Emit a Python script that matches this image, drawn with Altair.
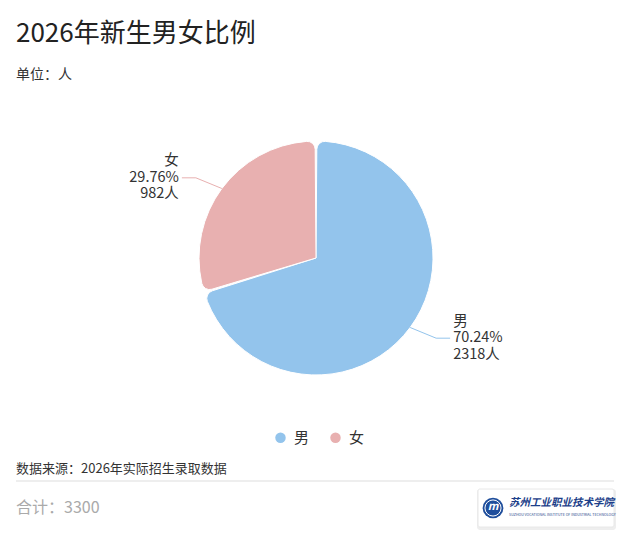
import altair as alt
import pandas as pd

# ---- data ----
categories = ["男", "女"]
counts = [2318, 982]
order_idx = [0, 1]
colors = ["#93C4EC", "#E8B0B0"]

title_text = "2026年新生男女比例"
subtitle_text = "单位：人"
source_text = "数据来源：2026年实际招生录取数据"
total_text = "合计：3300"
school_name = "苏州工业职业技术学院"
school_en = "SUZHOU VOCATIONAL INSTITUTE OF INDUSTRIAL TECHNOLOGY"

FONT = "Noto Sans CJK SC"
W, H = 611, 527
CX, CY, R = 308, 250, 117

df = pd.DataFrame({"cat": categories, "value": counts, "idx": order_idx})
color_scale = alt.Scale(domain=categories, range=colors)

base = (
    alt.Chart(df)
    .transform_joinaggregate(total="sum(value)")
    .transform_window(cum="sum(value)", sort=[alt.SortField("idx", order="ascending")], frame=[None, 0])
    .transform_calculate(mid="(datum.cum - datum.value/2)/datum.total*2*PI")
    .transform_calculate(side="sin(datum.mid) >= 0 ? 1 : -1")
    .transform_calculate(ex=f"{CX} + {R}*sin(datum.mid)")
    .transform_calculate(ey=f"{CY} - {R}*cos(datum.mid)")
    .transform_calculate(bx="datum.ex + datum.side*26")
    .transform_calculate(by="datum.ey - cos(datum.mid)*18")
    .transform_calculate(tx="datum.bx + datum.side*14")
    .transform_calculate(lx="datum.bx + datum.side*17")
    .transform_calculate(pct="format(datum.value/datum.total*100, '.2f') + '%'")
    .transform_calculate(cnt="datum.value + '人'")
)

arc = base.mark_arc(radius=R, cornerRadius=8, padAngle=0.015, stroke="white", strokeWidth=1).encode(
    theta=alt.Theta("value:Q", stack=True),
    order=alt.Order("idx:Q"),
    color=alt.Color(
        "cat:N",
        scale=color_scale,
        sort=categories,
        legend=alt.Legend(
            title=None,
            orient="none",
            legendX=265,
            legendY=422,
            direction="horizontal",
            symbolType="circle",
            symbolSize=110,
            symbolStrokeWidth=0,
            labelFontSize=15,
            labelColor="#333333",
            labelFont=FONT,
            labelOffset=6,
            columnPadding=18,
            padding=0,
        ),
    ),
    x=alt.value(CX),
    y=alt.value(CY),
)

nocolor = alt.Color("cat:N", scale=color_scale, legend=None)

lead1 = base.mark_rule(strokeWidth=1).encode(
    x=alt.X("ex:Q", scale=None, axis=None),
    y=alt.Y("ey:Q", scale=None, axis=None),
    x2="bx:Q",
    y2="by:Q",
    color=nocolor,
)
lead2 = base.mark_rule(strokeWidth=1).encode(
    x=alt.X("bx:Q", scale=None, axis=None),
    y=alt.Y("by:Q", scale=None, axis=None),
    x2="tx:Q",
    y2="by:Q",
    color=nocolor,
)

def labels(cond, align, field, dy):
    return base.transform_filter(cond).mark_text(
        align=align, baseline="middle", dy=dy,
        fontSize=14.5, font=FONT, color="#333333",
    ).encode(
        x=alt.X("lx:Q", scale=None, axis=None),
        y=alt.Y("by:Q", scale=None, axis=None),
        text=f"{field}:N",
    )

label_layers = []
for cond, align in [("datum.side > 0", "left"), ("datum.side < 0", "right")]:
    for field, dy in [("cat", -16.5), ("pct", 0), ("cnt", 16.5)]:
        label_layers.append(labels(cond, align, field, dy))

one = alt.Data(values=[{"a": 1}])

def txt(text, x, y, size, color, align="left", **kw):
    return alt.Chart(one).mark_text(
        text=text, align=align, baseline="middle", fontSize=size, font=FONT, color=color, **kw
    ).encode(x=alt.value(x), y=alt.value(y))

title = txt(title_text, 8, 26, 26, "#222222")
subtitle = txt(subtitle_text, 8, 67, 14, "#333333")
source = txt(source_text, 8, 461, 13, "#333333")
total = txt(total_text, 8, 500, 16, "#aaaaaa")

divider = alt.Chart(one).mark_rule(color="#dddddd", strokeWidth=1).encode(
    x=alt.value(8), x2=alt.value(606), y=alt.value(473)
)

shadow = alt.Chart(one).mark_rect(fill="#eeeeee", cornerRadius=3).encode(
    x=alt.value(469), x2=alt.value(608), y=alt.value(481), y2=alt.value(522)
)
logo_box = alt.Chart(one).mark_rect(fill="white", stroke="#e8e8e8", cornerRadius=2).encode(
    x=alt.value(470), x2=alt.value(606), y=alt.value(481), y2=alt.value(519)
)
emblem = alt.Chart(one).mark_point(shape="circle", filled=True, size=430, color="#1f4e9c", opacity=1).encode(
    x=alt.value(485), y=alt.value(500)
)
emblem_ring = alt.Chart(one).mark_point(shape="circle", filled=False, size=260, color="white", strokeWidth=1, opacity=1).encode(
    x=alt.value(485), y=alt.value(500)
)
emblem_txt = txt("m", 485, 499, 11, "white", align="center", fontStyle="italic", fontWeight="bold")
school = txt(school_name, 501, 495, 10.5, "#1d3f8a", fontStyle="italic", fontWeight="bold")
school2 = txt(school_en, 501, 507, 3.6, "#1d3f8a")

chart = (
    alt.layer(
        title, subtitle, arc, lead1, lead2, *label_layers, source, divider, total,
        shadow, logo_box, emblem, emblem_ring, emblem_txt, school, school2,
    )
    .properties(width=W, height=H, autosize=alt.AutoSizeParams(type="none"), padding=0,
                background="white")
    .configure_view(stroke=None)
)

chart.save("out.html", embed_options={"renderer": "svg", "actions": False})
